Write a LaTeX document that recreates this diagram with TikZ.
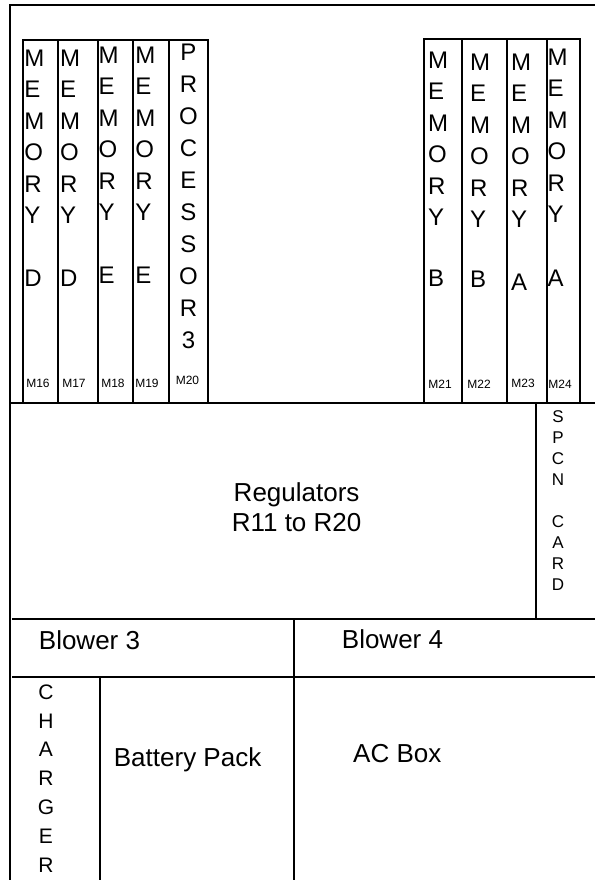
\documentclass[tikz,border=0pt]{standalone}
\usepackage{fontspec}
\setmainfont{Liberation Sans}
\begin{document}
\begin{tikzpicture}[x=1pt,y=-1pt,
  wall/.style={line width=2pt, line join=miter},
  letters/.style={font=\fontsize{24}{31.5}\selectfont, align=left, inner sep=0pt, anchor=north west},
  proc/.style={font=\fontsize{24}{32}\selectfont, align=center, inner sep=0pt, anchor=north},
  slot/.style={font=\fontsize{12}{14}\selectfont, inner sep=0pt, anchor=center},
  big/.style={font=\fontsize{26}{30}\selectfont, align=center, inner sep=0pt},
  narrow/.style={font=\fontsize{17}{21}\selectfont, align=center, inner sep=0pt, anchor=north},
  chg/.style={font=\fontsize{21}{28.8}\selectfont, align=center, inner sep=0pt, anchor=north}]
\useasboundingbox (0,0) rectangle (595,880);
% outer frame
\draw[wall] (10,880) -- (10,5.5) -- (595,5.5);
% left card group
\draw[wall] (23,403) -- (23,40) -- (208,40) -- (208,403);
\foreach \xx in {58,98,133,169} \draw[wall] (\xx,40) -- (\xx,404);
% right card group
\draw[wall] (424,404) -- (424,39) -- (580,39) -- (580,404);
\foreach \xx in {462,507,547} \draw[wall] (\xx,39) -- (\xx,404);
% horizontal divisions
\draw[wall] (10,403) -- (595,403);
\draw[wall] (536,403) -- (536,619);
\draw[wall] (12,619) -- (595,619);
\draw[wall] (294,619) -- (294,880);
\draw[wall] (12,677) -- (595,677);
\draw[wall] (100,677) -- (100,880);
% card texts
\node[letters] (m16) at (24.2,49.4) {M\\E\\M\\O\\R\\Y\\[31pt]D};
\node[letters] (m17) at (60,49.4) {M\\E\\M\\O\\R\\Y\\[31pt]D};
\node[letters] (m18) at (98.5,46.4) {M\\E\\M\\O\\R\\Y\\[31pt]E};
\node[letters] (m19) at (135.2,46.4) {M\\E\\M\\O\\R\\Y\\[31pt]E};
\node[proc] (m20) at (188.5,43.4) {P\\R\\O\\C\\E\\S\\S\\O\\R\\3};
\node[letters] (m21) at (428,51.4) {M\\E\\M\\O\\R\\Y\\[29pt]B};
\node[letters] (m22) at (470,53.4) {M\\E\\M\\O\\R\\Y\\[28pt]B};
\node[letters] (m23) at (511,53.4) {M\\E\\M\\O\\R\\Y\\[31pt]A};
\node[letters] (m24) at (547.5,48.4) {M\\E\\M\\O\\R\\Y\\[32pt]A};
% slot labels
\node[slot] (l16) at (38,383) {M16};
\node[slot] (l17) at (74,383) {M17};
\node[slot] (l18) at (113,383) {M18};
\node[slot] (l19) at (147,383) {M19};
\node[slot] (l20) at (187.5,380) {M20};
\node[slot] (l21) at (440,384) {M21};
\node[slot] (l22) at (479,384) {M22};
\node[slot] (l23) at (523,383) {M23};
\node[slot] (l24) at (560,384) {M24};
% regulators and SPCN
\node[big, anchor=north] (reg) at (296.6,482.7) {Regulators\\R11 to R20};
\node[narrow] (spcn) at (558,410.9) {S\\P\\C\\N\\[21pt]C\\A\\R\\D};
% blowers
\node[big, anchor=base] (bl3) at (89.5,649.3) {Blower 3};
\node[big, anchor=base] (bl4) at (392.5,648.3) {Blower 4};
% bottom
\node[chg] (chg) at (46,684.5) {C\\H\\A\\R\\G\\E\\R};
\node[big, anchor=base] (bat) at (187.6,766.3) {Battery Pack};
\node[big, anchor=base] (ac) at (397.3,762.3) {AC Box};
\end{tikzpicture}
\end{document}
